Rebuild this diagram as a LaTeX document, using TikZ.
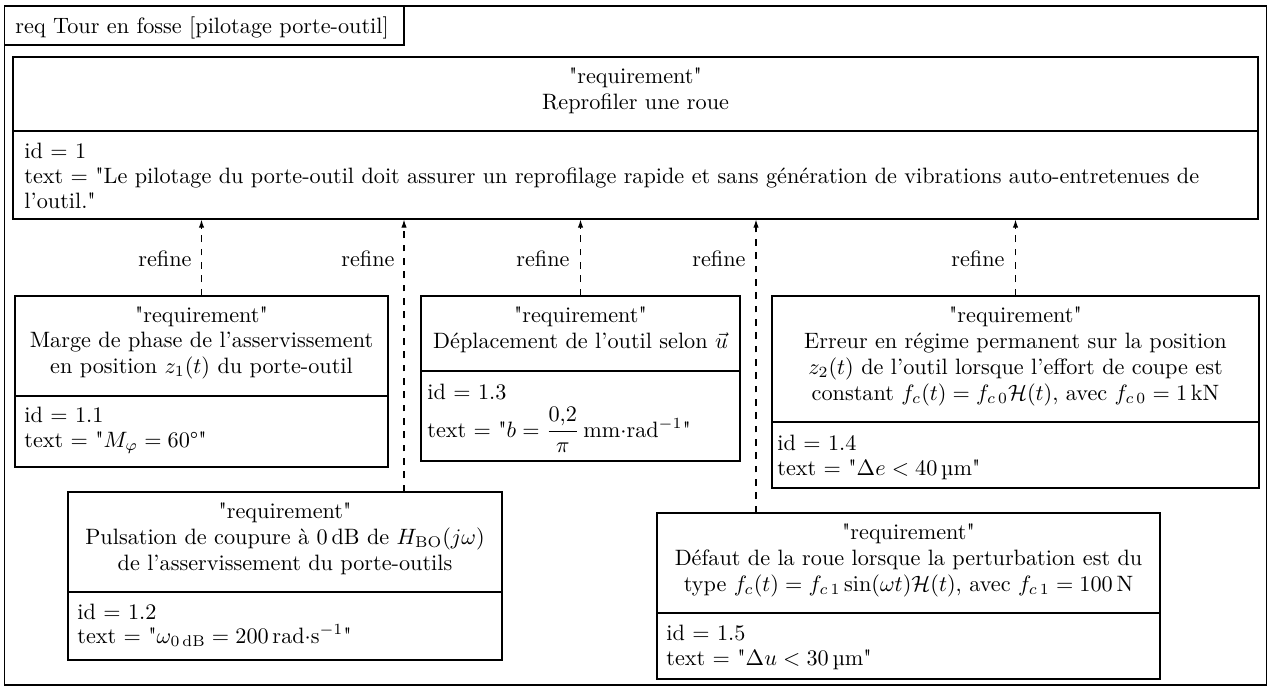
\documentclass[tikz,border=0pt]{standalone}
\usepackage{amsmath}
\usetikzlibrary{fit,arrows.meta}
\newcommand{\stq}{\textquotedbl}
\tikzset{
  box/.style={draw, line width=0.5pt, inner sep=0pt},
  divider/.style={line width=0.5pt},
  ctxt/.style={inner sep=0pt, anchor=base},
  ltxt/.style={inner sep=0pt, anchor=base west},
  refine/.style={draw, dashed, line width=0.5pt, -{Latex[length=3.6pt,width=2.4pt]}},
  lbl/.style={inner sep=0pt, anchor=base east},
}
\begin{document}
\begin{tikzpicture}[x=0.45pt,y=-0.45pt]
\useasboundingbox (0,0) rectangle (1269,689);
% frame and tab
\node[box, fit={(4.5,6)(1266.5,685)}] (frame) {};
\node[box, fit={(4.5,6)(404,45)}] (tab) {};
\node[ltxt] (tabtxt) at (15,33) {req Tour en fosse [pilotage porte-outil]};
% main requirement
\node[box, fit={(13,57)(1258,219)}] (main) {};
\draw[divider] (13,131) -- (1258,131);
\node[ctxt] (m1) at (635.5,83) {\stq requirement\stq};
\node[ctxt] (m2) at (635.5,109) {Reprofiler une roue};
\node[ltxt] (m3) at (24,158) {id = 1};
\node[ltxt] (m4) at (24,183) {text = \stq Le pilotage du porte-outil doit assurer un reprofilage rapide et sans génération de vibrations auto-entretenues de};
\node[ltxt] (m5) at (24,208) {l'outil.\stq};
% 1.1
\node[box, fit={(15,296)(388,467)}] (r11) {};
\draw[divider] (15,396) -- (388,396);
\node[ctxt] (a1) at (201.5,322) {\stq requirement\stq};
\node[ctxt] (a2) at (201.5,347.5) {Marge de phase de l'asservissement};
\node[ctxt] (a3) at (201.5,373) {en position $z_1(t)$ du porte-outil};
\node[ltxt] (a4) at (24,422) {id = 1.1};
\node[ltxt] (a5) at (24,447) {text = \stq$M_\varphi = 60$°\stq};
% 1.3
\node[box, fit={(421,296)(740,461)}] (r13) {};
\draw[divider] (421,371) -- (740,371);
\node[ctxt] (c1) at (580.5,322) {\stq requirement\stq};
\node[ctxt] (c2) at (580.5,348) {Déplacement de l'outil selon $\vec{u}$};
\node[ltxt] (c3) at (427,399) {id = 1.3};
\node[ltxt] (c4) at (427,437) {text = \stq$b = \dfrac{0{,}2}{\pi}\,\mathrm{mm{\cdot}rad^{-1}}$\stq};
% 1.4
\node[box, fit={(772,296)(1259,488)}] (r14) {};
\draw[divider] (772,422) -- (1259,422);
\node[ctxt] (d1) at (1015.5,322) {\stq requirement\stq};
\node[ctxt] (d2) at (1015.5,348) {Erreur en régime permanent sur la position};
\node[ctxt] (d3) at (1015.5,374) {$z_2(t)$ de l'outil lorsque l'effort de coupe est};
\node[ctxt] (d4) at (1015.5,400) {constant $f_c(t) = f_{c\,0}\mathcal{H}(t)$, avec $f_{c\,0} = 1\,\mathrm{kN}$};
\node[ltxt] (d5) at (777,450) {id = 1.4};
\node[ltxt] (d6) at (777,475) {text = \stq$\Delta e < 40\,$µm\stq};
% 1.2
\node[box, fit={(68,492)(502,660)}] (r12) {};
\draw[divider] (68,592) -- (502,592);
\node[ctxt] (b1) at (285,518) {\stq requirement\stq};
\node[ctxt] (b2) at (285,544) {Pulsation de coupure à 0\,dB de $H_{\mathrm{BO}}(j\omega)$};
\node[ctxt] (b3) at (285,570) {de l'asservissement du porte-outils};
\node[ltxt] (b4) at (77,619) {id = 1.2};
\node[ltxt] (b5) at (77,643) {text = \stq$\omega_{0\,\mathrm{dB}} = 200\,\mathrm{rad{\cdot}s^{-1}}$\stq};
% 1.5
\node[box, fit={(657,513)(1160,679)}] (r15) {};
\draw[divider] (657,613) -- (1160,613);
\node[ctxt] (e1) at (908.5,539) {\stq requirement\stq};
\node[ctxt] (e2) at (908.5,565) {Défaut de la roue lorsque la perturbation est du};
\node[ctxt] (e3) at (908.5,591) {type $f_c(t) = f_{c\,1}\sin(\omega t)\mathcal{H}(t)$, avec $f_{c\,1} = 100\,\mathrm{N}$};
\node[ltxt] (e4) at (666,640) {id = 1.5};
\node[ltxt] (e5) at (666,665) {text = \stq$\Delta u < 30\,$µm\stq};
% connectors
\coordinate (x12) at (404,0);
\coordinate (x15) at (756,0);
\draw[refine] (r11.north) -- (main.south -| r11.north);
\draw[refine] (x12 |- r12.north) -- (x12 |- main.south);
\draw[refine] (r13.north) -- (main.south -| r13.north);
\draw[refine] (x15 |- r15.north) -- (x15 |- main.south);
\draw[refine] (r14.north) -- (main.south -| r14.north);
% labels
\node[lbl] (l11) at (192,266) {refine};
\node[lbl] (l12) at (395,266) {refine};
\node[lbl] (l13) at (570,266) {refine};
\node[lbl] (l15) at (746,266) {refine};
\node[lbl] (l14) at (1005,266) {refine};
\end{tikzpicture}
\end{document}
